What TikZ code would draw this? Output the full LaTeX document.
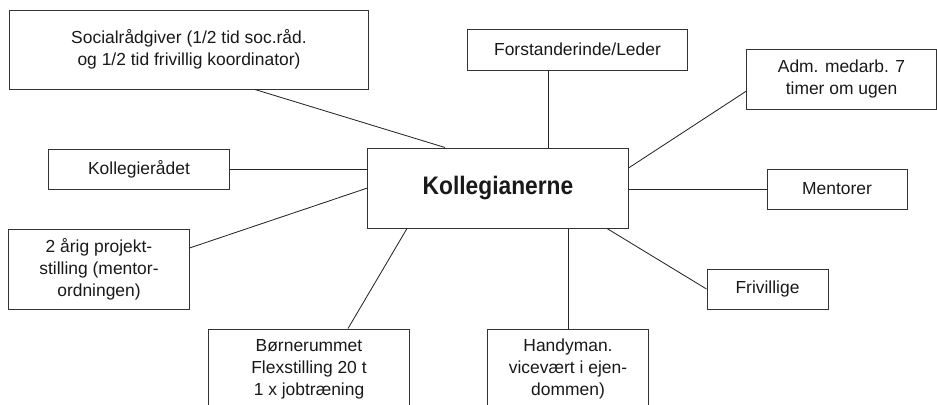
\documentclass[tikz,border=0pt]{standalone}
\usepackage{fontspec}
\setmainfont{Liberation Sans}
\newfontfamily\headfont[FakeStretch=0.9]{Liberation Sans}
\usetikzlibrary{calc}
\tikzset{
  box/.style={draw=black!80, line width=0.7pt, align=center, inner sep=2pt,
    text=black!90, font=\fontsize{12.4}{15.6}\selectfont}, % the boxes round each text
  link/.style={draw=black!85, line width=0.6pt}, % lines from the centre box
}

\begin{document}
\begin{tikzpicture}[x=0.025cm, y=-0.025cm]
  \useasboundingbox (0,0) rectangle (937,404);

  \node[box, minimum width=6.5cm, minimum height=2cm,
    font=\headfont\bfseries\fontsize{18}{20}\selectfont] (center) at (498,188) {Kollegianerne};

  \node[box, minimum width=8.95cm, minimum height=1.975cm] (social) at (189,49.5)
    {Socialrådgiver (1/2 tid soc.råd.\\og 1/2 tid frivillig koordinator)};
  \node[box, minimum width=5.475cm, minimum height=1.025cm] (leder) at (577.5,49.5)
    {Forstanderinde/Leder};
  \node[box, minimum width=4.725cm, minimum height=1.5cm] (adm) at (841.5,79)
    {Adm. medarb. 7\\timer om ugen};
  \node[box, minimum width=4.5cm, minimum height=1cm] (kollrad) at (139,169)
    {Kollegierådet};
  \node[box, minimum width=3.5cm, minimum height=1cm] (mentorer) at (837,189)
    {Mentorer};
  \node[box, minimum width=4.5cm, minimum height=2cm] (projekt) at (99,269)
    {2 årig projekt-\\stilling (mentor-\\ordningen)};
  \node[box, minimum width=3.025cm, minimum height=1cm] (frivillige) at (767.5,289)
    {Frivillige};
  \node[box, minimum width=5cm, minimum height=2cm] (boern) at (309,369)
    {Børnerummet\\Flexstilling 20 t\\1 x jobtræning};
  \node[box, minimum width=4cm, minimum height=2cm] (handy) at (568,369)
    {Handyman.\\vicevært i ejen-\\dommen)};

  \draw[link] ($(social.south)+(66,0)$) -- ($(center.north)+(-53,0)$);
  \draw[link] ($(leder.south)+(-29.5,0)$) -- ($(center.north)+(50,0)$);
  \draw[link] ($(adm.west)+(0,12)$) -- ($(center.east)+(0,-20)$);
  \draw[link] (kollrad.east) -- (kollrad.east -| center.west);
  \draw[link] (mentorer.west) -- (mentorer.west -| center.east);
  \draw[link] ($(projekt.east)+(0,-21)$) -- (center.west);
  \draw[link] (frivillige.west) -- ($(center.south)+(109,0)$);
  \draw[link] ($(boern.north)+(39,0)$) -- ($(center.south)+(-91,0)$);
  \draw[link] (handy.north) -- (handy.north |- center.south);
\end{tikzpicture}
\end{document}
